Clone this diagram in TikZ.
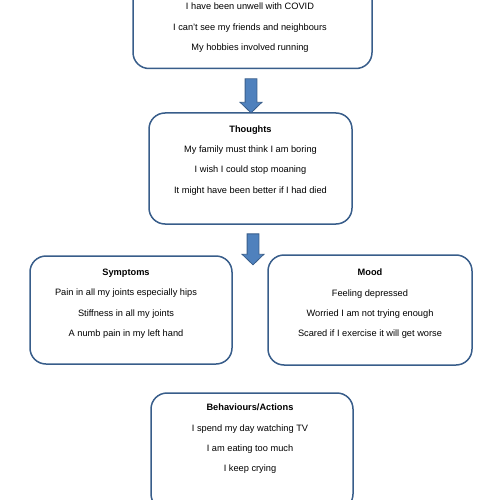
\documentclass[tikz,border=0pt]{standalone}
\usepackage{fontspec}
\setmainfont{Liberation Sans}
\usepackage{xcolor}
\definecolor{chart-line}{HTML}{385D8A}
\definecolor{chart-fill}{HTML}{4F81BD}
\usetikzlibrary{positioning,shapes.arrows}

\tikzset{
  panel/.style={draw=chart-line, line width=1.5pt, rounded corners=16pt},
  panel text/.style={align=center, inner sep=0pt, font=\fontsize{9.25}{20.4}\selectfont},
  block arrow/.style={single arrow, draw=chart-line, fill=chart-fill, line width=0.8pt,
    inner sep=5.5pt, single arrow head extend=5pt, single arrow tip angle=92, rotate=-90}
}

\begin{document}
\begin{tikzpicture}[x=1pt, y=-1pt]
    \useasboundingbox (0,0) rectangle (500,500);

    % Situation
    \node[panel, minimum width=239pt, minimum height=114pt] (situation) at (252.5,11.5) {};
    \node[panel text, anchor=north] (situationtext) at (250,2.7)
      {I have been unwell with COVID\\I can't see my friends and neighbours\\My hobbies involved running};

    % Thoughts
    \node[panel, minimum width=203pt, minimum height=111pt] (thoughts) at (250.5,168.5) {};
    \node[panel text, below=13pt of thoughts.north] (thoughtstext)
      {\textbf{Thoughts}\\My family must think I am boring\\I wish I could stop moaning\\It might have been better if I had died};

    % Symptoms
    \node[panel, minimum width=202pt, minimum height=108pt] (symptoms) at (131,310) {};
    \node[panel text, below=13.5pt of symptoms.north, xshift=-5pt] (symptomstext)
      {\textbf{Symptoms}\\Pain in all my joints especially hips\\Stiffness in all my joints\\A numb pain in my left hand};

    % Mood
    \node[panel, minimum width=204pt, minimum height=110pt] (mood) at (370,310) {};
    \node[panel text, below=14.5pt of mood.north] (moodtext)
      {\textbf{Mood}\\Feeling depressed\\Worried I am not trying enough\\Scared if I exercise it will get worse};

    % Behaviours
    \node[panel, minimum width=202pt, minimum height=117pt] (behaviours) at (252,451.5) {};
    \node[panel text, below=11.5pt of behaviours.north, xshift=-2pt] (behaviourstext)
      {\textbf{Behaviours/Actions}\\I spend my day watching TV\\I am eating too much\\I keep crying};

    % Arrows
    \node[block arrow, minimum height=34pt] (arrowA) at (251,93) {};
    \node[block arrow, minimum height=31pt] (arrowB) at (253,246.5) {};

\end{tikzpicture}
\end{document}
